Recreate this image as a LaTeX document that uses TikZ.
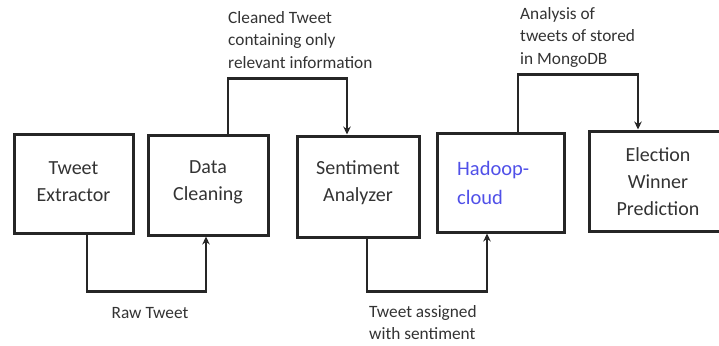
\documentclass[tikz,border=0pt]{standalone}
\usepackage{fontspec}
\setmainfont{Carlito}
\usetikzlibrary{arrows.meta,calc}
\definecolor{txt}{HTML}{333333}
\definecolor{hblue}{HTML}{5050E8}
\tikzset{
  box/.style={draw=black!85, line width=3pt, rectangle, inner sep=0pt},
  boxtext/.style={text=txt, font=\fontsize{20}{27}\selectfont, align=center},
  lbl/.style={text=txt, font=\fontsize{17.3}{22.5}\selectfont, align=left, inner sep=0pt},
  conn/.style={draw=black!85, line width=2.5pt, -{Stealth[length=8pt,width=7.5pt]}}
}
\begin{document}
\begin{tikzpicture}[x=1pt,y=-1pt]
\useasboundingbox (0,0) rectangle (719,345);
\clip (0,0) rectangle (719,345);
\node[box, minimum width=119pt, minimum height=99pt] (b1) at (73.5,183.5) {};
\node[box, minimum width=120pt, minimum height=100pt] (b2) at (208,185) {};
\node[box, minimum width=122pt, minimum height=101pt] (b3) at (358,186.5) {};
\node[box, minimum width=127pt, minimum height=99pt] (b4) at (500.5,182.5) {};
\node[box, minimum width=138pt, minimum height=100pt] (b5) at (658,181) {};
\node[boxtext] (t1) at (73.5,182) {Tweet\\Extractor};
\node[boxtext] (t2) at (208,182) {Data\\Cleaning};
\node[boxtext] (t3) at (358,183) {Sentiment\\Analyzer};
\node[text=hblue, font=\fontsize{20.5}{29}\selectfont, align=left, anchor=west, inner sep=0pt] (t4) at (457,182.5) {Hadoop-\\cloud};
\node[boxtext] (t5) at (658,182) {Election\\Winner\\Prediction};
\draw[conn] ([xshift=20pt]b2.north) -- ++(0,-55) -| ([xshift=-11pt]b3.north);
\draw[conn] ([xshift=17.5pt]b4.north) -- ++(0,-57) -| ([xshift=-20pt]b5.north);
\draw[conn] ([xshift=13.5pt]b1.south) -- ++(0,57) -| ([xshift=-2pt]b2.south);
\draw[conn] ([xshift=9pt]b3.south) -- ++(0,53) -| ([xshift=-13.5pt]b4.south);
\node[lbl, anchor=west] (l1) at (228,40) {Cleaned Tweet\\containing only\\relevant information};
\node[lbl, anchor=west] (l2) at (520,37) {Analysis of\\tweets of stored\\in MongoDB};
\node[lbl, anchor=center] (l3) at (150,313) {Raw Tweet};
\node[lbl, anchor=west] (l4) at (369,322.5) {Tweet assigned\\with sentiment};
\end{tikzpicture}
\end{document}
